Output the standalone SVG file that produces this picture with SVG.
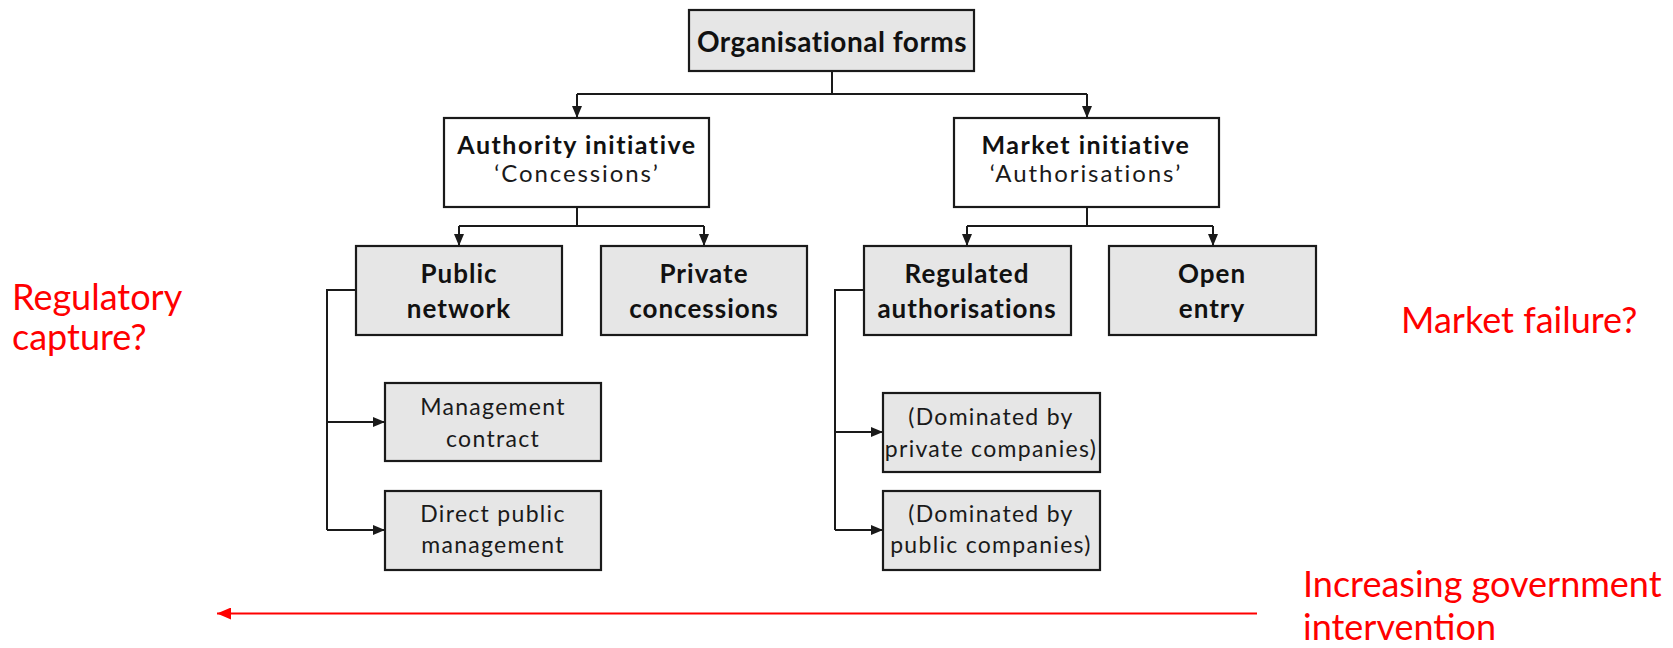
<svg xmlns="http://www.w3.org/2000/svg" width="1673" height="648" viewBox="0 0 1673 648">
<style>
.box{stroke:#1a1a1a;stroke-width:2.2}
.g{fill:#e6e6e6}
.w{fill:#ffffff}
.b{font-family:Lato,"Liberation Sans",sans-serif;font-weight:bold;fill:#111;text-anchor:middle}
.r{font-family:Lato,"Liberation Sans",sans-serif;fill:#1a1a1a;text-anchor:middle}
.l3{font-size:26px;letter-spacing:1px}
.l4{font-size:23px;letter-spacing:1.3px}
.l2b{font-size:25px;letter-spacing:1.5px}
.l2r{font-size:24px;letter-spacing:1.9px}
.red{font-family:Lato,"Liberation Sans",sans-serif;fill:#ff0000;font-size:36px}
.c{fill:none;stroke:#1a1a1a;stroke-width:2}
</style>
<defs>
<marker id="ah" viewBox="0 0 12 10" refX="12" refY="5" markerWidth="12" markerHeight="10" markerUnits="userSpaceOnUse" orient="auto">
<path d="M0,0 L12,5 L0,10 Z" fill="#1a1a1a"/>
</marker>
<marker id="rah" viewBox="0 0 14 12" refX="14" refY="6" markerWidth="14" markerHeight="12" markerUnits="userSpaceOnUse" orient="auto">
<path d="M0,0 L14,6 L0,12 Z" fill="#ff0000"/>
</marker>
</defs>

<g id="connectors">
<path class="c" d="M832,71 V94"/>
<path class="c" d="M577,94 H1087"/>
<path class="c" d="M577,94 V118" marker-end="url(#ah)"/>
<path class="c" d="M1087,94 V118" marker-end="url(#ah)"/>
<path class="c" d="M577,207 V226"/>
<path class="c" d="M459,226 H704"/>
<path class="c" d="M459,226 V246" marker-end="url(#ah)"/>
<path class="c" d="M704,226 V246" marker-end="url(#ah)"/>
<path class="c" d="M1087,207 V226"/>
<path class="c" d="M967,226 H1213"/>
<path class="c" d="M967,226 V246" marker-end="url(#ah)"/>
<path class="c" d="M1213,226 V246" marker-end="url(#ah)"/>
<path class="c" d="M356,290 H327 V530"/>
<path class="c" d="M327,422 H385" marker-end="url(#ah)"/>
<path class="c" d="M327,530 H385" marker-end="url(#ah)"/>
<path class="c" d="M864,290 H835 V530"/>
<path class="c" d="M835,432 H883" marker-end="url(#ah)"/>
<path class="c" d="M835,530 H883" marker-end="url(#ah)"/>
<path d="M1257,613.5 H217" fill="none" stroke="#ff0000" stroke-width="2" marker-end="url(#rah)"/>
</g>

<g id="org">
<rect class="box g" x="689" y="10" width="285" height="61"/>
<text class="b" x="832" y="52" font-size="28" letter-spacing="0.5">Organisational forms</text>
</g>
<g id="authority">
<rect class="box w" x="444" y="118" width="265" height="89"/>
<text class="b l2b" x="577" y="154">Authority initiative</text>
<text class="r l2r" x="577" y="182">‘Concessions’</text>
</g>
<g id="market">
<rect class="box w" x="954" y="118" width="265" height="89"/>
<text class="b l2b" x="1086" y="154">Market initiative</text>
<text class="r l2r" x="1086" y="182">‘Authorisations’</text>
</g>
<g id="public-network">
<rect class="box g" x="356" y="246" width="206" height="89"/>
<text class="b l3" x="459" y="283">Public</text>
<text class="b l3" x="459" y="318">network</text>
</g>
<g id="private-concessions">
<rect class="box g" x="601" y="246" width="206" height="89"/>
<text class="b l3" x="704" y="283">Private</text>
<text class="b l3" x="704" y="318">concessions</text>
</g>
<g id="regulated">
<rect class="box g" x="864" y="246" width="207" height="89"/>
<text class="b l3" x="967" y="283">Regulated</text>
<text class="b l3" x="967" y="318">authorisations</text>
</g>
<g id="open-entry">
<rect class="box g" x="1109" y="246" width="207" height="89"/>
<text class="b l3" x="1212" y="283">Open</text>
<text class="b l3" x="1212" y="318">entry</text>
</g>
<g id="management-contract">
<rect class="box g" x="385" y="383" width="216" height="78"/>
<text class="r l4" x="493" y="415">Management</text>
<text class="r l4" x="493" y="447">contract</text>
</g>
<g id="direct-public">
<rect class="box g" x="385" y="491" width="216" height="79"/>
<text class="r l4" x="493" y="522">Direct public</text>
<text class="r l4" x="493" y="553">management</text>
</g>
<g id="dom-private">
<rect class="box g" x="883" y="393" width="217" height="79"/>
<text class="r l4" x="991" y="425">(Dominated by</text>
<text class="r l4" x="991" y="457">private companies)</text>
</g>
<g id="dom-public">
<rect class="box g" x="883" y="491" width="217" height="79"/>
<text class="r l4" x="991" y="522">(Dominated by</text>
<text class="r l4" x="991" y="553">public companies)</text>
</g>

<g id="annotations">
<text class="red" x="12" y="310">Regulatory</text>
<text class="red" x="12" y="350">capture?</text>
<text class="red" x="1401" y="333">Market failure?</text>
<text class="red" x="1303" y="597">Increasing government</text>
<text class="red" x="1303" y="640">intervention</text>
</g>
</svg>
